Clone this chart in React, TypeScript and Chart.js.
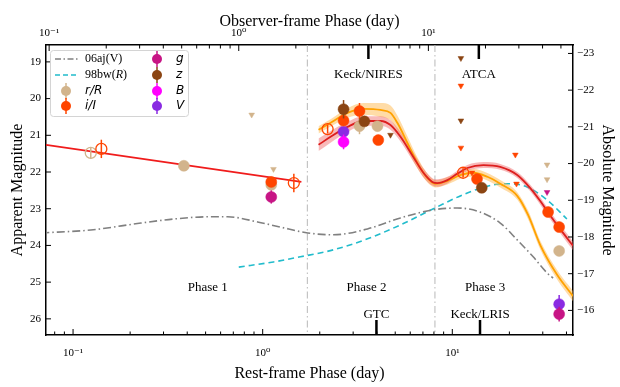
import React, { useEffect, useRef } from 'react';
import { Chart, registerables } from 'chart.js';
Chart.register(...registerables);

const SERIF = '"Liberation Serif", "DejaVu Serif", serif';

// axes
const ONE_PLUS_Z = 1.337;
const X_MIN = 0.072;
const X_MAX = 43.3;
const Y_MIN = 18.54;
const Y_MAX = 26.44;
const ABS_OFFSET = 41.77;
const appTicks = [19, 20, 21, 22, 23, 24, 25, 26];
const absTicks = [-23, -22, -21, -20, -19, -18, -17, -16];

// phase 1 power-law fit (i band)
const fitX = [0.072, 1.6];
const fitMag = [21.26, 22.27];

// model i band (red) with uncertainty
const modelIX = [1.97, 2.28, 2.8, 3.4, 4.18, 4.72, 5.33, 6.23, 7.04, 7.85, 8.34, 9.42, 10.6, 12.0, 14.6, 17.9, 22.0, 25.7, 29.1, 32.7, 37.0, 43.3];
const modelIMag = [21.26, 21.04, 20.77, 20.61, 20.61, 20.72, 21.04, 21.59, 22.02, 22.27, 22.3, 22.22, 22.05, 21.89, 21.81, 21.86, 22.08, 22.43, 22.79, 23.17, 23.55, 24.01];
const modelIErr = [0.17, 0.16, 0.14, 0.13, 0.13, 0.13, 0.13, 0.13, 0.12, 0.1, 0.1, 0.09, 0.08, 0.08, 0.08, 0.08, 0.08, 0.09, 0.1, 0.1, 0.11, 0.12];

// model r band (orange) with uncertainty
const modelRX = [1.97, 2.28, 2.8, 3.4, 4.18, 4.72, 5.13, 5.8, 6.54, 7.38, 8.13, 9.42, 11.1, 12.9, 15.3, 17.9, 22.0, 25.1, 29.1, 35.7, 43.3];
const modelRMag = [20.85, 20.66, 20.39, 20.28, 20.31, 20.39, 20.66, 21.21, 21.75, 22.16, 22.32, 22.24, 22.08, 22.02, 22.13, 22.32, 22.65, 23.17, 23.99, 24.8, 25.38];
const modelRErr = [0.1, 0.1, 0.13, 0.16, 0.19, 0.2, 0.2, 0.18, 0.15, 0.12, 0.1, 0.1, 0.1, 0.1, 0.1, 0.1, 0.1, 0.12, 0.12, 0.13, 0.14];

// comparison SNe
const sn06ajX = [0.068, 0.124, 0.228, 0.34, 0.514, 0.654, 0.94, 1.24, 1.73, 2.36, 3.57, 5.33, 7.95, 10.6, 14.0, 17.9, 22.0, 26.7, 31.6, 34.0];
const sn06ajMag = [23.66, 23.58, 23.39, 23.28, 23.22, 23.22, 23.36, 23.5, 23.66, 23.71, 23.55, 23.25, 23.03, 22.98, 23.09, 23.39, 23.85, 24.31, 24.75, 24.89];
const sn98bwX = [0.748, 1.14, 1.58, 2.36, 3.57, 5.33, 7.95, 12.0, 16.4, 20.2, 24.8, 31.6, 40.2];
const sn98bwMag = [24.59, 24.45, 24.31, 24.12, 23.82, 23.44, 23.0, 22.57, 22.35, 22.32, 22.41, 22.76, 23.28];

const phaseDividers = [1.72, 8.1];

// detections
const iX = [1.11, 2.67, 3.24, 4.07, 13.5, 32.0, 36.6];
const iMag = [22.27, 20.6, 20.34, 21.13, 22.19, 23.09, 23.5];
const iErr = [0.1, 0.1, 0.22, 0.1, 0.1, 0.12, 0.12];
const iOpenX = [0.141, 1.46, 2.2, 11.4];
const iOpenMag = [21.37, 22.3, 20.83, 22.02];
const iOpenErr = [0.25, 0.25, 0.12, 0.12];
const rX = [0.384, 1.11, 3.24, 4.03, 36.6];
const rMag = [21.83, 22.35, 20.75, 20.75, 24.15];
const rErr = [0.08, 0.1, 0.22, 0.1, 0.1];
const rOpenX = [0.124];
const rOpenMag = [21.48];
const rOpenErr = [0.15];
const gX = [1.11, 36.6];
const gMag = [22.68, 25.87];
const gErr = [0.18, 0.2];
const zX = [2.67, 3.44, 14.3];
const zMag = [20.29, 20.62, 22.43];
const zErr = [0.25, 0.1, 0.1];
const bX = [2.67];
const bMag = [21.18];
const bErr = [0.2];
const vX = [2.67, 36.6];
const vMag = [20.9, 25.6];
const vErr = [0.1, 0.25];

// upper limits
const rLimX = [0.875, 1.14, 31.6, 31.6];
const rLimMag = [20.44, 21.92, 21.8, 22.2];
const iLimX = [11.1, 11.1, 12.7, 21.5, 21.8];
const iLimMag = [19.65, 21.34, 22.02, 21.53, 22.32];
const zLimX = [4.72, 11.1, 11.1];
const zLimMag = [20.99, 18.9, 20.6];
const gLimX = [31.6];
const gLimMag = [22.55];

// annotations
const topMarkX = [3.61, 13.8];
const topMarkLabels = ['Keck/NIRES', 'ATCA'];
const topLabelMag = 19.35;
const bottomMarkX = [3.98, 14.0];
const bottomMarkLabels = ['GTC', 'Keck/LRIS'];
const bottomLabelMag = 25.89;
const phaseLabelX = [0.513, 3.53, 14.9];
const phaseLabels = ['Phase 1', 'Phase 2', 'Phase 3'];
const phaseLabelMag = 25.16;

const C_I = '#ff4500';
const C_R = '#d2b48c';
const C_G = '#c71585';
const C_Z = '#8b4513';
const C_B = '#ff00ff';
const C_V = '#8a2be2';

const pts = (xs: number[], ys: number[]) => xs.map((x, i) => ({ x, y: ys[i] }));

const supMap: Record<string, string> = { '-': '⁻', '0': '⁰', '1': '¹', '2': '²', '3': '³' };
const fmtLog = (v: any) => {
  const l = Math.log10(Number(v));
  const r = Math.round(l);
  if (Math.abs(l - r) < 1e-6) return '10' + String(r).split('').map((c) => supMap[c] || c).join('');
  return '';
};
const logTicks = (min: number, max: number) => {
  const out: { value: number }[] = [];
  for (let e = -2; e <= 2; e++) {
    for (let m = 1; m <= 9; m++) {
      const v = m * Math.pow(10, e);
      if (v >= min && v <= max) out.push({ value: v });
    }
  }
  return out;
};

function lineDs(label: string, xs: number[], ys: number[], color: string, width: number, dash: number[], order: number) {
  return {
    label,
    data: pts(xs, ys),
    borderColor: color,
    backgroundColor: color,
    borderWidth: width,
    borderDash: dash,
    pointRadius: 0,
    fill: false,
    cubicInterpolationMode: 'monotone',
    order,
  };
}

function bandDs(xs: number[], ys: number[], err: number[], color: string, order: number) {
  return [
    {
      label: 'lo',
      data: pts(xs, ys.map((y, i) => y - err[i])),
      borderWidth: 0,
      pointRadius: 0,
      fill: false,
      cubicInterpolationMode: 'monotone',
      order,
    },
    {
      label: 'hi',
      data: pts(xs, ys.map((y, i) => y + err[i])),
      borderWidth: 0,
      pointRadius: 0,
      fill: '-1',
      backgroundColor: color,
      cubicInterpolationMode: 'monotone',
      order,
    },
  ];
}

function pointDs(label: string, xs: number[], ys: number[], err: number[] | null, color: string, open: boolean, order: number) {
  return {
    label,
    data: pts(xs, ys),
    showLine: false,
    pointRadius: 5.5,
    pointHoverRadius: 5.5,
    pointBackgroundColor: open ? 'rgba(255,255,255,0)' : color,
    pointBorderColor: color,
    pointBorderWidth: open ? 1.3 : 0.5,
    borderColor: color,
    backgroundColor: color,
    errorBars: err,
    order,
  };
}

function limitDs(label: string, xs: number[], ys: number[], color: string) {
  return {
    label,
    data: pts(xs, ys),
    showLine: false,
    pointStyle: 'triangle',
    rotation: 180,
    pointRadius: 3.3,
    pointBackgroundColor: color,
    pointBorderColor: color,
    pointBorderWidth: 0.5,
    borderColor: color,
    backgroundColor: color,
    order: 2,
  };
}

const errorBarPlugin = {
  id: 'errorBars',
  beforeDatasetDraw(chart: any, args: any) {
    const ds = chart.data.datasets[args.index];
    if (!ds.errorBars) return;
    const ctx = chart.ctx;
    const ys = chart.scales.y;
    const a = chart.chartArea;
    ctx.save();
    ctx.beginPath();
    ctx.rect(a.left, a.top, a.right - a.left, a.bottom - a.top);
    ctx.clip();
    ctx.strokeStyle = ds.borderColor;
    ctx.lineWidth = 1.5;
    args.meta.data.forEach((el: any, i: number) => {
      const d = ds.data[i];
      const e = ds.errorBars[i];
      ctx.beginPath();
      ctx.moveTo(el.x, ys.getPixelForValue(d.y - e));
      ctx.lineTo(el.x, ys.getPixelForValue(d.y + e));
      ctx.stroke();
    });
    ctx.restore();
  },
};

const ticksPlugin = {
  id: 'inwardTicks',
  afterDraw(chart: any) {
    const ctx = chart.ctx;
    const a = chart.chartArea;
    ctx.save();
    ctx.strokeStyle = '#000';
    ctx.lineWidth = 1;
    ['x', 'x2'].forEach((id) => {
      const s = chart.scales[id];
      s.ticks.forEach((t: any) => {
        const p = s.getPixelForValue(t.value);
        if (p < a.left + 1 || p > a.right - 1) return;
        const l = Math.log10(t.value);
        const len = Math.abs(l - Math.round(l)) < 1e-6 ? 6 : 3.5;
        ctx.beginPath();
        if (id === 'x') {
          ctx.moveTo(p, a.bottom);
          ctx.lineTo(p, a.bottom - len);
        } else {
          ctx.moveTo(p, a.top);
          ctx.lineTo(p, a.top + len);
        }
        ctx.stroke();
      });
    });
    ['y', 'y2'].forEach((id) => {
      const s = chart.scales[id];
      s.ticks.forEach((t: any) => {
        const p = s.getPixelForValue(t.value);
        ctx.beginPath();
        if (id === 'y') {
          ctx.moveTo(a.left, p);
          ctx.lineTo(a.left + 5, p);
        } else {
          ctx.moveTo(a.right, p);
          ctx.lineTo(a.right - 5, p);
        }
        ctx.stroke();
      });
    });
    // instrument epochs
    const xs = chart.scales.x;
    const ys = chart.scales.y;
    ctx.lineWidth = 2.5;
    topMarkX.forEach((v) => {
      const p = xs.getPixelForValue(v);
      ctx.beginPath();
      ctx.moveTo(p, a.top);
      ctx.lineTo(p, a.top + 14);
      ctx.stroke();
    });
    bottomMarkX.forEach((v) => {
      const p = xs.getPixelForValue(v);
      ctx.beginPath();
      ctx.moveTo(p, a.bottom);
      ctx.lineTo(p, a.bottom - 15);
      ctx.stroke();
    });
    ctx.fillStyle = '#000';
    ctx.font = '13px ' + SERIF;
    ctx.textAlign = 'center';
    ctx.textBaseline = 'middle';
    topMarkX.forEach((v, i) => ctx.fillText(topMarkLabels[i], xs.getPixelForValue(v), ys.getPixelForValue(topLabelMag)));
    bottomMarkX.forEach((v, i) => ctx.fillText(bottomMarkLabels[i], xs.getPixelForValue(v), ys.getPixelForValue(bottomLabelMag)));
    phaseLabelX.forEach((v, i) => ctx.fillText(phaseLabels[i], xs.getPixelForValue(v), ys.getPixelForValue(phaseLabelMag)));
    ctx.restore();
  },
};

const legendPlugin = {
  id: 'customLegend',
  afterDraw(chart: any) {
    const ctx = chart.ctx;
    ctx.save();
    const bx = 50.5, by = 50.5, bw = 138, bh = 66, r = 3;
    ctx.beginPath();
    ctx.moveTo(bx + r, by);
    ctx.lineTo(bx + bw - r, by);
    ctx.quadraticCurveTo(bx + bw, by, bx + bw, by + r);
    ctx.lineTo(bx + bw, by + bh - r);
    ctx.quadraticCurveTo(bx + bw, by + bh, bx + bw - r, by + bh);
    ctx.lineTo(bx + r, by + bh);
    ctx.quadraticCurveTo(bx, by + bh, bx, by + bh - r);
    ctx.lineTo(bx, by + r);
    ctx.quadraticCurveTo(bx, by, bx + r, by);
    ctx.fillStyle = 'rgba(255,255,255,0.85)';
    ctx.fill();
    ctx.strokeStyle = '#d4d4d4';
    ctx.lineWidth = 1;
    ctx.stroke();

    const rows = [59, 75, 91, 106];
    // lines
    ctx.lineWidth = 1.6;
    ctx.strokeStyle = '#808080';
    ctx.setLineDash([6, 2.5, 1.5, 2.5]);
    ctx.beginPath();
    ctx.moveTo(55, rows[0]);
    ctx.lineTo(78, rows[0]);
    ctx.stroke();
    ctx.strokeStyle = '#22bccc';
    ctx.setLineDash([5, 3]);
    ctx.beginPath();
    ctx.moveTo(55, rows[1]);
    ctx.lineTo(78, rows[1]);
    ctx.stroke();
    ctx.setLineDash([]);

    const marker = (x: number, y: number, c: string) => {
      ctx.strokeStyle = c;
      ctx.fillStyle = c;
      ctx.lineWidth = 1.5;
      ctx.beginPath();
      ctx.moveTo(x, y - 8);
      ctx.lineTo(x, y + 8);
      ctx.stroke();
      ctx.beginPath();
      ctx.arc(x, y, 5, 0, Math.PI * 2);
      ctx.fill();
    };
    marker(66, rows[2], C_R);
    marker(66, rows[3], C_I);
    marker(157, rows[0], C_G);
    marker(157, rows[1], C_Z);
    marker(157, rows[2], C_B);
    marker(157, rows[3], C_V);

    ctx.fillStyle = '#000';
    ctx.textBaseline = 'middle';
    ctx.textAlign = 'left';
    ctx.font = '12px ' + SERIF;
    ctx.fillText('06aj(V)', 85, rows[0]);
    let x = 85;
    ctx.fillText('98bw(', x, rows[1]);
    x += ctx.measureText('98bw(').width;
    ctx.font = 'italic 12px ' + SERIF;
    ctx.fillText('R', x, rows[1]);
    x += ctx.measureText('R').width;
    ctx.font = '12px ' + SERIF;
    ctx.fillText(')', x, rows[1]);
    ctx.font = 'italic 12px "DejaVu Sans", sans-serif';
    ctx.fillText('r/R', 85, rows[2]);
    ctx.fillText('i/I', 85, rows[3]);
    ctx.fillText('g', 176, rows[0]);
    ctx.fillText('z', 176, rows[1]);
    ctx.fillText('B', 176, rows[2]);
    ctx.fillText('V', 176, rows[3]);
    ctx.restore();
  },
};

const axisCommon = {
  grid: { drawOnChartArea: false, drawTicks: false },
  border: { display: true, color: '#000', width: 1.5 },
};

export default function App() {
  const ref = useRef<HTMLCanvasElement>(null);
  useEffect(() => {
    Chart.defaults.font.family = SERIF;
    const datasets: any[] = [
      // detections (top)
      pointDs('i open', iOpenX, iOpenMag, iOpenErr, C_I, true, 1),
      pointDs('r open', rOpenX, rOpenMag, rOpenErr, C_R, true, 1),
      pointDs('z', zX, zMag, zErr, C_Z, false, 1),
      pointDs('i', iX, iMag, iErr, C_I, false, 1),
      pointDs('g', gX, gMag, gErr, C_G, false, 1),
      pointDs('B', bX, bMag, bErr, C_B, false, 1),
      pointDs('V', vX, vMag, vErr, C_V, false, 1),
      pointDs('r', rX, rMag, rErr, C_R, false, 1.5),
      limitDs('r lim', rLimX, rLimMag, C_R),
      limitDs('i lim', iLimX, iLimMag, C_I),
      limitDs('z lim', zLimX, zLimMag, C_Z),
      limitDs('g lim', gLimX, gLimMag, C_G),
      lineDs('fit', fitX, fitMag, '#f01c1c', 1.8, [], 5),
      lineDs('model i', modelIX, modelIMag, '#dd1f1f', 1.8, [], 6),
      lineDs('model r', modelRX, modelRMag, '#ffa200', 1.8, [], 7),
      ...bandDs(modelIX, modelIMag, modelIErr, 'rgba(240,100,100,0.45)', 8),
      ...bandDs(modelRX, modelRMag, modelRErr, 'rgba(255,185,80,0.5)', 9),
      lineDs('06aj(V)', sn06ajX, sn06ajMag, '#808080', 1.6, [8, 3, 1.5, 3], 10),
      lineDs('98bw(R)', sn98bwX, sn98bwMag, '#22bccc', 1.6, [6, 4], 10),
      ...phaseDividers.map((v) => ({
        label: 'div',
        data: [{ x: v, y: Y_MIN }, { x: v, y: Y_MAX }],
        borderColor: '#b8b8b8',
        borderWidth: 1,
        borderDash: [7, 3, 1.5, 3],
        pointRadius: 0,
        fill: false,
        order: 20,
      })),
    ];
    const chart = new Chart(ref.current as HTMLCanvasElement, {
      type: 'line',
      data: { datasets },
      options: {
        animation: false,
        responsive: false,
        devicePixelRatio: 1,
        layout: { padding: 0 },
        events: [],
        plugins: { legend: { display: false }, tooltip: { enabled: false } },
        scales: {
          x: {
            type: 'logarithmic',
            position: 'bottom',
            min: X_MIN,
            max: X_MAX,
            afterBuildTicks: (s: any) => { s.ticks = logTicks(s.min, s.max); },
            afterFit: (s: any) => { s.height = 52; },
            ticks: { autoSkip: false, maxRotation: 0, padding: 12, color: '#000', font: { size: 11 }, callback: fmtLog },
            title: { display: true, text: 'Rest-frame Phase (day)', color: '#000', font: { size: 16 }, padding: { top: 0, bottom: 3.4 } },
            ...axisCommon,
          },
          x2: {
            type: 'logarithmic',
            position: 'top',
            min: X_MIN * ONE_PLUS_Z,
            max: X_MAX * ONE_PLUS_Z,
            afterBuildTicks: (s: any) => { s.ticks = logTicks(s.min, s.max); },
            afterFit: (s: any) => { s.height = 45; },
            ticks: { autoSkip: false, maxRotation: 0, padding: 5, color: '#000', font: { size: 11 }, callback: fmtLog },
            title: { display: true, text: 'Observer-frame Phase (day)', color: '#000', font: { size: 16 }, padding: { top: 12.4, bottom: 0 } },
            ...axisCommon,
          },
          y: {
            type: 'linear',
            position: 'left',
            reverse: true,
            min: Y_MIN,
            max: Y_MAX,
            afterBuildTicks: (s: any) => { s.ticks = appTicks.map((v) => ({ value: v })); },
            afterFit: (s: any) => { s.width = 46; },
            ticks: { padding: 5, color: '#000', font: { size: 11 } },
            title: { display: true, text: 'Apparent Magnitude', color: '#000', font: { size: 16 }, padding: { top: 8.4, bottom: 0 } },
            ...axisCommon,
          },
          y2: {
            type: 'linear',
            position: 'right',
            reverse: true,
            min: Y_MIN - ABS_OFFSET,
            max: Y_MAX - ABS_OFFSET,
            afterBuildTicks: (s: any) => { s.ticks = absTicks.map((v) => ({ value: v })); },
            afterFit: (s: any) => { s.width = 47; },
            ticks: { padding: 4, color: '#000', font: { size: 11 }, callback: (v: any) => '−' + Math.abs(Number(v)) },
            title: { display: true, text: 'Absolute Magnitude', color: '#000', font: { size: 16 }, padding: { top: 3.4, bottom: 0 } },
            ...axisCommon,
          },
        },
      } as any,
      plugins: [errorBarPlugin, ticksPlugin, legendPlugin],
    });
    return () => chart.destroy();
  }, []);
  return (
    <div style={{ position: 'absolute', left: 0, top: 0, width: 620, height: 387, background: '#fff' }}>
      <canvas ref={ref} width={620} height={387} style={{ display: 'block', width: 620, height: 387 }} />
    </div>
  );
}
